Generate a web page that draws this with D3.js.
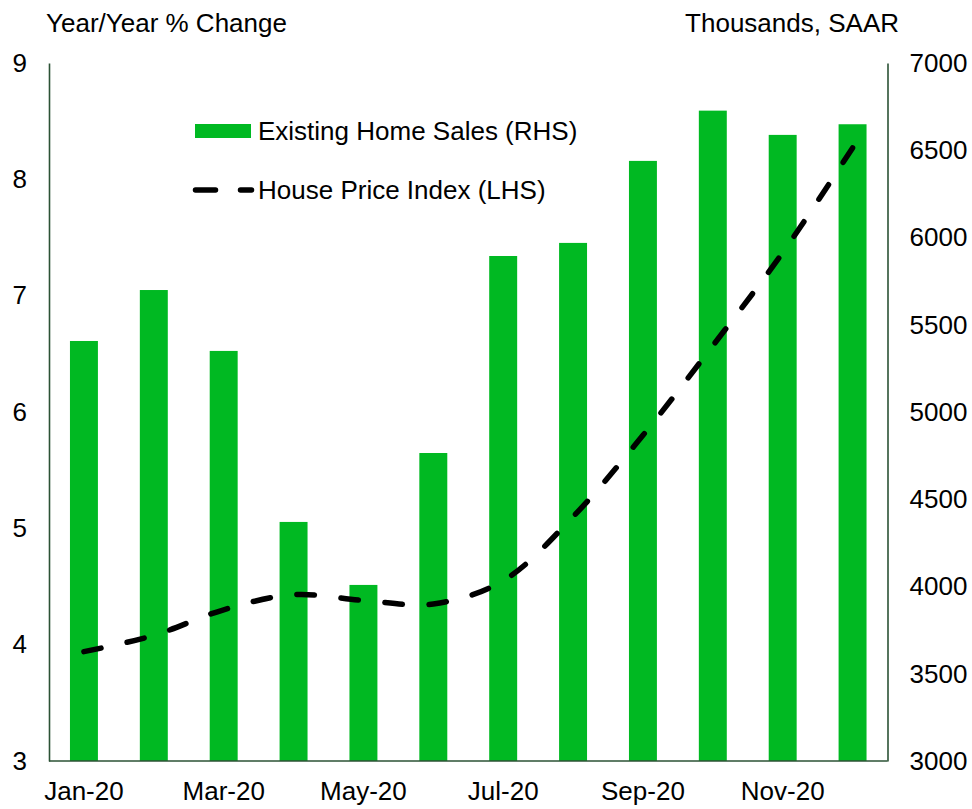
<!DOCTYPE html>
<html>
<head>
<meta charset="utf-8">
<script src="https://cdn.jsdelivr.net/npm/d3@7"></script>
<style>
  html, body { margin: 0; padding: 0; background: #fff; }
  svg { display: block; }
  text { font-family: "Liberation Sans", Arial, sans-serif; fill: #000; }
</style>
</head>
<body>
<svg id="chart" width="972" height="809"></svg>
<script>
const months = ["Jan-20","Feb-20","Mar-20","Apr-20","May-20","Jun-20","Jul-20","Aug-20","Sep-20","Oct-20","Nov-20","Dec-20"];
const homeSales = [5407, 5699, 5350, 4370, 4009, 4765, 5894, 5969, 6439, 6727, 6588, 6649];
const hpi = [3.94, 4.08, 4.30, 4.43, 4.38, 4.35, 4.55, 5.10, 5.80, 6.57, 7.37, 8.27];
const leftTicks = [3, 4, 5, 6, 7, 8, 9];
const rightTicks = [3000, 3500, 4000, 4500, 5000, 5500, 6000, 6500, 7000];
const xLabels = ["Jan-20","Mar-20","May-20","Jul-20","Sep-20","Nov-20"];

const svg = d3.select("#chart");
const L = 49, R = 887.5, T = 63, B = 761;
const axisColor = "#2b5235";

const x = d3.scaleBand().domain(months).range([L, R]).paddingInner(0.6).paddingOuter(0.3);
const yL = d3.scaleLinear().domain([3, 9]).range([B, T]);
const yR = d3.scaleLinear().domain([3000, 7000]).range([B, T]);

// bars
svg.append("g").selectAll("rect").data(months).join("rect")
  .attr("x", d => x(d))
  .attr("width", x.bandwidth())
  .attr("y", (d, i) => yR(homeSales[i]))
  .attr("height", (d, i) => B - yR(homeSales[i]))
  .attr("fill", "#00b922");

// line
const line = d3.line()
  .x((d, i) => x(months[i]) + x.bandwidth() / 2)
  .y(d => yL(d))
  .curve(d3.curveCatmullRom.alpha(0.5));
const hpiPath = svg.append("path").datum(hpi)
  .attr("d", line)
  .attr("fill", "none")
  .attr("stroke", "#000")
  .attr("stroke-width", 5.5)
  .attr("stroke-linecap", "round");
// fit dash pattern so the line both starts and ends on a dash
const total = hpiPath.node().getTotalLength();
const dash = 17.5;
const n = Math.round((total - dash) / 45);
const period = (total - dash) / n;
hpiPath.attr("stroke-dasharray", `${dash},${period - dash}`);

// axes
const fs = 26;
const axL = svg.append("g").attr("transform", `translate(${L},0)`)
  .call(d3.axisLeft(yL).tickValues(leftTicks).tickSize(0).tickPadding(22).tickFormat(d3.format("d")));
const axR = svg.append("g").attr("transform", `translate(${R},0)`)
  .call(d3.axisRight(yR).tickValues(rightTicks).tickSize(0).tickPadding(22).tickFormat(d3.format("d")));
const axB = svg.append("g").attr("transform", `translate(0,${B})`)
  .call(d3.axisBottom(x).tickValues(xLabels).tickSize(0).tickPadding(21));
[axL, axR, axB].forEach(g => {
  g.select(".domain").attr("stroke", axisColor).attr("stroke-width", 1.6);
  g.selectAll("text").style("font-size", fs + "px").attr("font-family", "Liberation Sans, Arial, sans-serif").attr("fill", "#000");
});
axB.select(".domain").attr("d", `M${L},0H${R}`);

// axis titles
svg.append("text").attr("x", 46).attr("y", 32).style("font-size", fs + "px").text("Year/Year % Change");
svg.append("text").attr("x", 899).attr("y", 32).attr("text-anchor", "end").style("font-size", fs + "px").text("Thousands, SAAR");

// legend
const lg = svg.append("g");
lg.append("rect").attr("x", 195).attr("y", 124).attr("width", 56).attr("height", 14).attr("fill", "#00b922");
lg.append("text").attr("x", 258).attr("y", 140).style("font-size", fs + "px").text("Existing Home Sales (RHS)");
lg.append("line").attr("x1", 195.5).attr("x2", 251.5).attr("y1", 190).attr("y2", 190)
  .attr("stroke", "#000").attr("stroke-width", 5.5).attr("stroke-linecap", "round").attr("stroke-dasharray", "20,25");
lg.append("text").attr("x", 258).attr("y", 199).style("font-size", fs + "px").text("House Price Index (LHS)");
</script>
</body>
</html>
